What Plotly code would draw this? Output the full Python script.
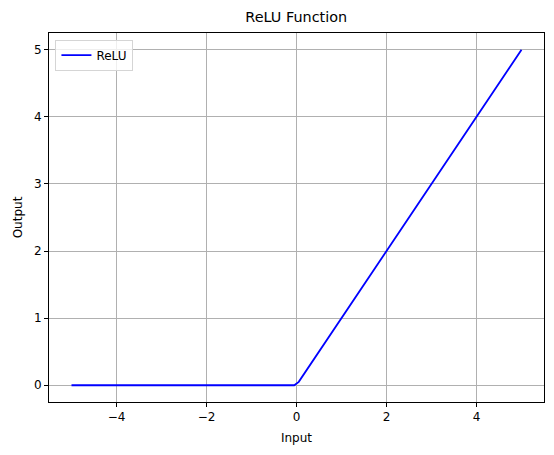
import plotly.graph_objects as go

# ReLU curve points
x_vals = [-5.0, -0.05, 0.05, 5.0]
y_vals = [0.0, 0.0, 0.05, 5.0]
x_ticks = [-4, -2, 0, 2, 4]
y_ticks = [0, 1, 2, 3, 4, 5]

fig = go.Figure()
fig.add_trace(go.Scatter(x=x_vals, y=y_vals, mode="lines", name="ReLU",
                         line=dict(color="blue", width=1.8)))

font = "DejaVu Sans"
axis_common = dict(showline=True, linecolor="black", linewidth=1, mirror=True,
                   ticks="outside", ticklen=4, tickwidth=1, tickcolor="black",
                   showgrid=True, gridcolor="#b0b0b0", gridwidth=1, zeroline=False,
                   tickfont=dict(family=font, size=12, color="black"))

fig.update_layout(
    width=554, height=455,
    margin=dict(l=48.5, r=10, t=32.5, b=53.3),
    paper_bgcolor="white", plot_bgcolor="white",
    title=dict(text="ReLU Function", x=(48.5 + 544) / 2 / 554, xanchor="center",
               y=1 - 17 / 455, yanchor="middle",
               font=dict(family=font, size=14.4, color="black")),
    xaxis=dict(range=[-5.5, 5.5], tickvals=x_ticks,
               ticktext=["\u22124", "\u22122", "0", "2", "4"],
               title=dict(text="Input", font=dict(family=font, size=12, color="black"), standoff=10),
               **axis_common),
    yaxis=dict(range=[-0.25, 5.25], tickvals=y_ticks,
               title=dict(text="Output", font=dict(family=font, size=12, color="black"), standoff=8),
               **axis_common),
    legend=dict(x=0.013, y=0.982, xanchor="left", yanchor="top",
                bgcolor="rgba(255,255,255,0.8)", bordercolor="#d5d5d5", borderwidth=1,
                font=dict(family=font, size=12, color="black"), itemwidth=30),
    showlegend=True,
)

fig.write_html("out.html")
